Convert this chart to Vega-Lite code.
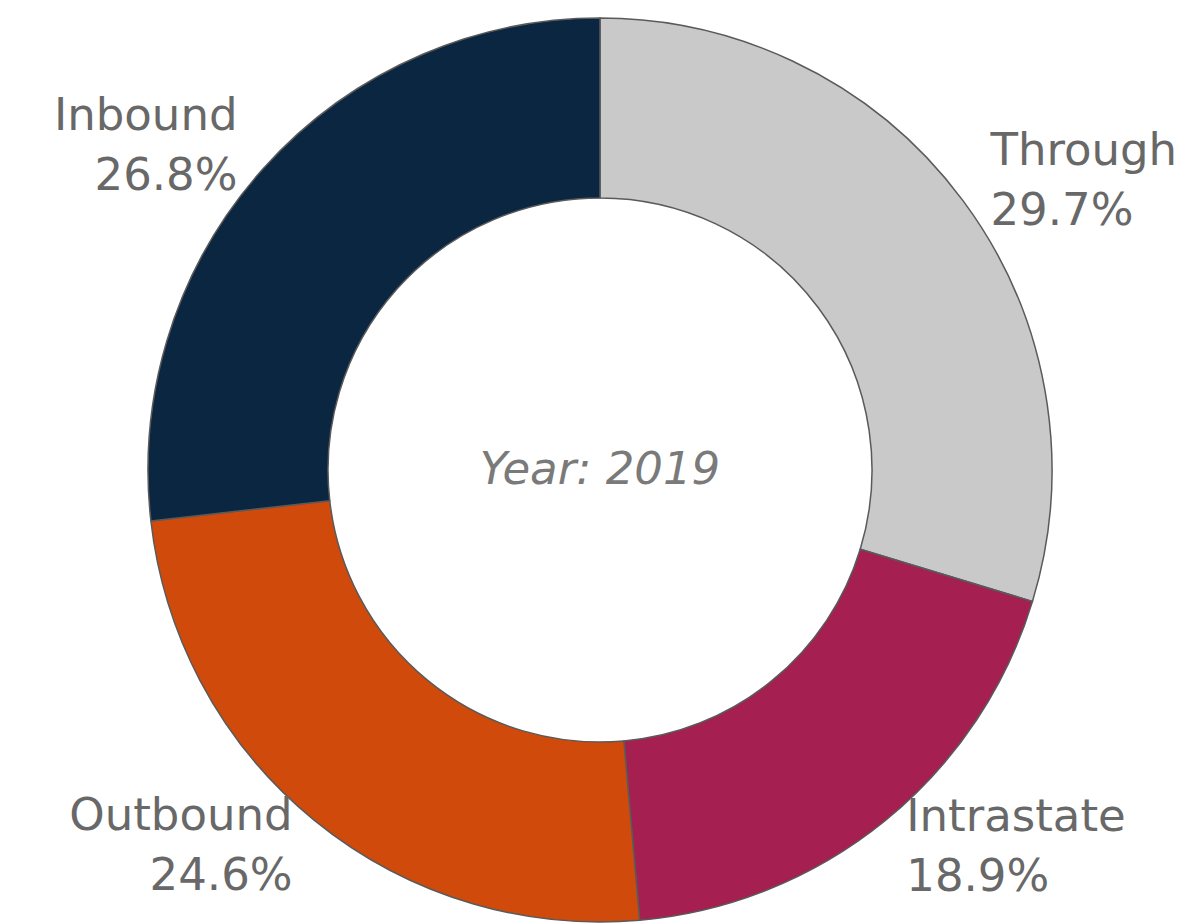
{
  "$schema": "https://vega.github.io/schema/vega-lite/v6.json",
  "autosize": "none",
  "width": 1176,
  "height": 908,
  "padding": {"left": 12, "top": 16, "right": 0, "bottom": 0},
  "background": "white",
  "config": {"view": {"stroke": null}, "font": "DejaVu Sans"},
  "layer": [
    {
      "data": {
        "values": [
          {"segment": "Through", "share": 29.7},
          {"segment": "Intrastate", "share": 18.9},
          {"segment": "Outbound", "share": 24.6},
          {"segment": "Inbound", "share": 26.8}
        ]
      },
      "transform": [
        {"calculate": "indexof(['Through', 'Intrastate', 'Outbound', 'Inbound'], datum.segment)", "as": "slot"}
      ],
      "layer": [
        {
          "mark": {"type": "arc", "outerRadius": 452, "innerRadius": 272, "stroke": "#5a5a5a", "strokeWidth": 1.5},
          "encoding": {
            "theta": {"field": "share", "type": "quantitative", "stack": true},
            "order": {"field": "slot", "type": "quantitative", "sort": "ascending"},
            "color": {
              "field": "segment",
              "type": "nominal",
              "scale": {
                "domain": ["Through", "Intrastate", "Outbound", "Inbound"],
                "range": ["#c9c9c9", "#a51f50", "#d04a0b", "#0b2641"]
              },
              "legend": null
            }
          }
        },
        {
          "transform": [
            {"calculate": "[datum.segment, format(datum.share, '.1f') + '%']", "as": "label"}
          ],
          "mark": {
            "type": "text",
            "radius": 486,
            "fontSize": 45,
            "lineHeight": 60,
            "dy": -30,
            "color": "#686868",
            "align": {"expr": "datum.slot < 2 ? 'left' : 'right'"},
            "baseline": "middle"
          },
          "encoding": {
            "theta": {"field": "share", "type": "quantitative", "stack": true},
            "order": {"field": "slot", "type": "quantitative", "sort": "ascending"},
            "detail": {"field": "segment", "type": "nominal"},
            "text": {"field": "label"}
          }
        }
      ]
    },
    {
      "data": {"values": [{"caption": "Year: 2019"}]},
      "mark": {"type": "text", "fontSize": 45, "fontStyle": "italic", "color": "#7a7a7a", "align": "center", "baseline": "middle"},
      "encoding": {"text": {"field": "caption"}}
    }
  ]
}
